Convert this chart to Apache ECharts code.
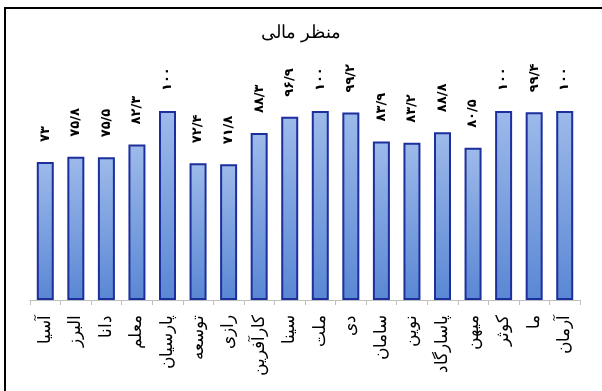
<!DOCTYPE html>
<html><head><meta charset="utf-8">
<script src="https://cdn.jsdelivr.net/npm/echarts@6/dist/echarts.min.js"></script>
<style>
html,body{margin:0;padding:0;background:#fff;}
#frame{position:absolute;left:4px;top:7px;width:620px;height:400px;border-left:2.5px solid #000;border-top:2.5px solid #000;box-sizing:border-box;}
#c{position:absolute;left:0;top:0;width:602px;height:391px;}
</style></head>
<body>
<div id="frame"></div>
<div id="c"></div>
<script>
const title = 'منظر مالی';
const categories = ['آسیا','البرز','دانا','معلم','پارسیان','توسعه','رازی','کارآفرین','سینا','ملت','دی','سامان','نوین','پاسارگاد','میهن','کوثر','ما','آرمان'];
const values = [73, 75.8, 75.5, 82.3, 100, 72.4, 71.8, 88.3, 96.9, 100, 99.2, 83.9, 83.2, 88.8, 80.5, 100, 99.4, 100];

const faDigits = '۰۱۲۳۴۵۶۷۸۹';
function toFa(v){
  return String(v).replace(/\d/g, d => faDigits[+d]).replace('.', '/');
}

const chart = echarts.init(document.getElementById('c'), null, {renderer:'canvas'});
chart.setOption({
  backgroundColor: 'transparent',
  animation: false,
  title: {
    text: title, left: 'center', top: 19,
    textStyle: {fontFamily: 'Liberation Serif, DejaVu Serif, serif', fontSize: 18, fontWeight: 'normal', color: '#000'}
  },
  grid: {left: 30, right: 22, top: 111, bottom: 91},
  xAxis: {
    type: 'category', data: categories,
    axisLine: {lineStyle: {color: '#bfbfbf', width: 1}},
    axisTick: {show: true, length: 5, lineStyle: {color: '#bfbfbf'}},
    axisLabel: {rotate: 90, margin: 15, color: '#000', fontSize: 17, fontFamily: 'Liberation Serif, DejaVu Serif, serif', interval: 0}
  },
  yAxis: {
    type: 'value', min: 0, max: 100, show: false,
    splitLine: {show: false}
  },
  series: [{
    type: 'bar', data: values, barWidth: 17,
    itemStyle: {
      color: new echarts.graphic.LinearGradient(0,0,0,1,[
        {offset:0, color:'#9dbaea'},
        {offset:1, color:'#5a87d4'}
      ]),
      borderColor: '#1c2f9c', borderWidth: 2
    },
    label: {
      show: true, position: 'top', distance: 20, rotate: 90,
      align: 'left', verticalAlign: 'middle',
      formatter: p => toFa(p.value),
      fontSize: 13, fontWeight: 'bold', color: '#000',
      fontFamily: 'DejaVu Sans, sans-serif'
    }
  }]
});
</script>
</body></html>
